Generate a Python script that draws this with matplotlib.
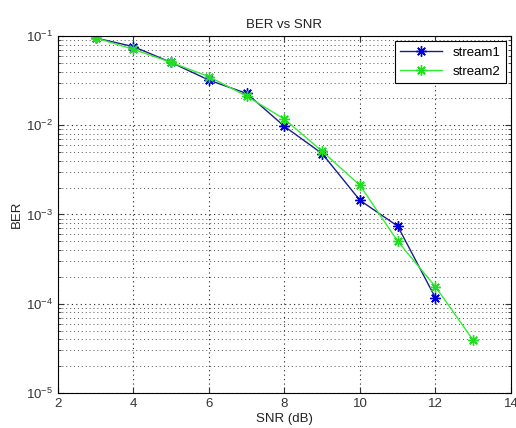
import numpy as np
import matplotlib
matplotlib.use("Agg")
import matplotlib.pyplot as plt
from matplotlib.ticker import LogLocator, FixedLocator

plt.rcParams['font.family'] = ['Liberation Sans', 'DejaVu Sans']

# BER curves read per SNR point
snr1 = [3, 4, 5, 6, 7, 8, 9, 10, 11, 12]
ber1 = [0.095, 0.076, 0.0505, 0.032, 0.0227, 0.0097, 0.0048, 0.00144, 0.00074, 0.000116]
snr2 = [3, 4, 5, 6, 7, 8, 9, 10, 11, 12, 13]
ber2 = [0.095, 0.071, 0.0505, 0.035, 0.0212, 0.0117, 0.0051, 0.00212, 0.0005, 0.000155, 0.000039]

# asterisk marker, 8 spokes
star = (8, 2, 0)

fig = plt.figure(figsize=(5.16, 4.28), dpi=100)
ax = fig.add_axes([0.1124, 0.0818, 0.8779, 0.8341])

ax.semilogy(snr1, ber1, '-', color='#1c1c8c', lw=1.0, marker=star, ms=7.5, mew=1.0,
            mec='#0000dd', label='stream1')
ax.semilogy(snr2, ber2, '-', color='#33ee33', lw=1.0, marker=star, ms=7.5, mew=1.0,
            mec='#22dd22', label='stream2')

ax.set_xlim(2, 14)
ax.set_ylim(1e-5, 1e-1)
ax.xaxis.set_major_locator(FixedLocator([2, 4, 6, 8, 10, 12, 14]))
ax.yaxis.set_major_locator(LogLocator(base=10, numticks=10))
ax.yaxis.set_minor_locator(LogLocator(base=10, subs=np.arange(2, 10), numticks=10))

# matlab style dotted grid
ax.grid(True, which='major', ls=(0, (1, 3)), color='#222222', lw=0.8)
ax.grid(True, which='minor', axis='y', ls=(0, (1, 3)), color='#555555', lw=0.7)
ax.tick_params(which='both', direction='in', top=True, right=True, labelsize=9.5, colors='#333333')
ax.tick_params(which='major', length=4)
ax.tick_params(which='minor', length=2)
for s in ax.spines.values():
    s.set_linewidth(0.8)

ax.set_title('BER vs SNR', fontsize=9.5, color='#222222', pad=6)
ax.set_xlabel('SNR (dB)', fontsize=9.5, color='#222222', labelpad=2)
ax.set_ylabel('BER', fontsize=9.5, color='#222222', labelpad=2)

leg = ax.legend(loc='upper right', fontsize=9.5, fancybox=False, framealpha=1,
                edgecolor='black', borderaxespad=0.4, handlelength=3.2,
                borderpad=0.4, labelspacing=0.5)
leg.get_frame().set_linewidth(0.8)

plt.savefig('out.png', dpi=100)
